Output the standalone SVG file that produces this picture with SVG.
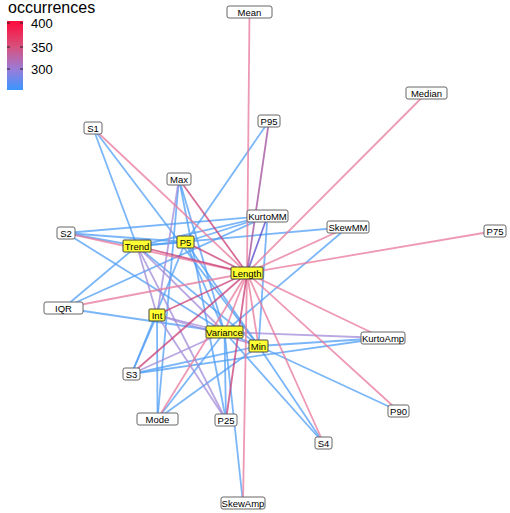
<svg xmlns="http://www.w3.org/2000/svg" width="510" height="513" viewBox="0 0 510 513">
<defs>
<linearGradient id="leg" x1="0" y1="0" x2="0" y2="1">
<stop offset="0" stop-color="#ff0a3c"/>
<stop offset="0.37" stop-color="#d8507c"/>
<stop offset="0.7" stop-color="#9a7cd8"/>
<stop offset="1" stop-color="#3a96ff"/>
</linearGradient>
<style>
line{stroke-width:1.8;stroke-opacity:0.75;fill:none}
.b{stroke:#4f9ef5}
.p{stroke:#a08ad8}
.k{stroke:#e8779a}
.d{stroke:#c83c74}
.m{stroke:#a04a98}
.v{stroke:#5548cc}
.n rect{fill:#ffffff;stroke:#666;stroke-width:1}
.y rect{fill:#ffff33;stroke:#444;stroke-width:1}
text{font-family:"Liberation Sans",Arial,sans-serif;fill:#000}
.n text,.y text{font-size:9.5px;text-anchor:middle}
.tk{stroke:#222;stroke-width:1;stroke-opacity:1}
</style>
</defs>
<rect width="510" height="513" fill="#ffffff"/>
<g id="legend">
<text x="8" y="13" font-size="16">occurrences</text>
<rect x="7" y="21" width="16" height="69" fill="url(#leg)"/>
<line class="tk" x1="7" y1="23" x2="10" y2="23"/><line class="tk" x1="20" y1="23" x2="23" y2="23"/>
<line class="tk" x1="7" y1="47" x2="10" y2="47"/><line class="tk" x1="20" y1="47" x2="23" y2="47"/>
<line class="tk" x1="7" y1="69" x2="10" y2="69"/><line class="tk" x1="20" y1="69" x2="23" y2="69"/>
<text x="31" y="27.5" font-size="13">400</text>
<text x="31" y="51.5" font-size="13">350</text>
<text x="31" y="73.5" font-size="13">300</text>
</g>
<g id="connectors">
<line class="b" x1="93" y1="128" x2="137" y2="246"/>
<line class="b" x1="93" y1="128" x2="258.5" y2="346"/>
<line class="b" x1="269" y1="121" x2="185.5" y2="242"/>
<line class="b" x1="66" y1="233" x2="137" y2="246"/>
<line class="b" x1="66" y1="233" x2="185.5" y2="242"/>
<line class="b" x1="66" y1="233" x2="267.5" y2="216"/>
<line class="b" x1="66" y1="233" x2="224.5" y2="332"/>
<line class="b" x1="137" y1="246" x2="63.5" y2="308"/>
<line class="b" x1="63.5" y1="308" x2="267.5" y2="216"/>
<line class="b" x1="63.5" y1="308" x2="224.5" y2="332"/>
<line class="b" x1="137" y1="246" x2="267.5" y2="216"/>
<line class="b" x1="348" y1="227" x2="137" y2="246"/>
<line class="b" x1="348" y1="227" x2="224.5" y2="332"/>
<line class="b" x1="267.5" y1="216" x2="258.5" y2="346"/>
<line class="b" x1="179" y1="179" x2="224.5" y2="332"/>
<line class="b" x1="179" y1="179" x2="226" y2="420"/>
<line class="b" x1="179" y1="179" x2="157.5" y2="419"/>
<line class="b" x1="185.5" y1="242" x2="137" y2="246"/>
<line class="b" x1="185.5" y1="242" x2="224.5" y2="332"/>
<line class="b" x1="185.5" y1="242" x2="258.5" y2="346"/>
<line class="b" x1="185.5" y1="242" x2="267.5" y2="216"/>
<line class="b" x1="185.5" y1="242" x2="131.5" y2="374"/>
<line class="b" x1="137" y1="246" x2="258.5" y2="346"/>
<line class="b" x1="157" y1="315" x2="131.5" y2="374"/>
<line class="b" x1="157" y1="315" x2="157.5" y2="419"/>
<line class="b" x1="131.5" y1="374" x2="258.5" y2="346"/>
<line class="b" x1="131.5" y1="374" x2="383" y2="338"/>
<line class="b" x1="157.5" y1="419" x2="224.5" y2="332"/>
<line class="b" x1="157.5" y1="419" x2="258.5" y2="346"/>
<line class="b" x1="226" y1="420" x2="224.5" y2="332"/>
<line class="b" x1="243" y1="503" x2="224.5" y2="332"/>
<line class="b" x1="323.5" y1="443" x2="224.5" y2="332"/>
<line class="b" x1="323.5" y1="443" x2="258.5" y2="346"/>
<line class="b" x1="398.5" y1="411" x2="258.5" y2="346"/>
<line class="b" x1="383" y1="338" x2="258.5" y2="346"/>
<line class="b" x1="224.5" y1="332" x2="258.5" y2="346"/>
<line class="p" x1="179" y1="179" x2="157" y2="315"/>
<line class="p" x1="137" y1="246" x2="157" y2="315"/>
<line class="p" x1="137" y1="246" x2="224.5" y2="332"/>
<line class="p" x1="137" y1="246" x2="226" y2="420"/>
<line class="p" x1="157" y1="315" x2="224.5" y2="332"/>
<line class="p" x1="157" y1="315" x2="226" y2="420"/>
<line class="p" x1="157" y1="315" x2="258.5" y2="346"/>
<line class="p" x1="131.5" y1="374" x2="224.5" y2="332"/>
<line class="p" x1="383" y1="338" x2="224.5" y2="332"/>
<line class="k" x1="249.5" y1="12" x2="247" y2="273"/>
<line class="k" x1="426.5" y1="93" x2="247" y2="273"/>
<line class="k" x1="495" y1="231" x2="247" y2="273"/>
<line class="k" x1="348" y1="227" x2="247" y2="273"/>
<line class="k" x1="93" y1="128" x2="247" y2="273"/>
<line class="k" x1="66" y1="233" x2="247" y2="273"/>
<line class="k" x1="63.5" y1="308" x2="247" y2="273"/>
<line class="k" x1="157.5" y1="419" x2="247" y2="273"/>
<line class="k" x1="243" y1="503" x2="247" y2="273"/>
<line class="k" x1="323.5" y1="443" x2="247" y2="273"/>
<line class="k" x1="398.5" y1="411" x2="247" y2="273"/>
<line class="k" x1="383" y1="338" x2="247" y2="273"/>
<line class="k" x1="224.5" y1="332" x2="247" y2="273"/>
<line class="k" x1="258.5" y1="346" x2="247" y2="273"/>
<line class="d" x1="137" y1="246" x2="247" y2="273"/>
<line class="d" x1="185.5" y1="242" x2="247" y2="273"/>
<line class="d" x1="157" y1="315" x2="247" y2="273"/>
<line class="d" x1="131.5" y1="374" x2="247" y2="273"/>
<line class="d" x1="226" y1="420" x2="247" y2="273"/>
<line class="d" x1="179" y1="179" x2="247" y2="273"/>
<line class="m" x1="269" y1="121" x2="247" y2="273"/>
<line class="v" x1="267.5" y1="216" x2="247" y2="273"/>
</g>
<g id="n-Mean" class="n"><rect x="227" y="6" width="45" height="12" rx="2"/><text x="249.5" y="15.5">Mean</text></g>
<g id="n-Median" class="n"><rect x="406" y="87" width="41" height="12" rx="2"/><text x="426.5" y="96.5">Median</text></g>
<g id="n-P95" class="n"><rect x="258" y="115" width="22" height="12" rx="2"/><text x="269" y="124.5">P95</text></g>
<g id="n-S1" class="n"><rect x="84" y="122" width="18" height="12" rx="2"/><text x="93" y="131.5">S1</text></g>
<g id="n-Max" class="n"><rect x="167" y="173" width="24" height="12" rx="2"/><text x="179" y="182.5">Max</text></g>
<g id="n-KurtoMM" class="n"><rect x="247" y="210" width="41" height="12" rx="2"/><text x="267.5" y="219.5">KurtoMM</text></g>
<g id="n-SkewMM" class="n"><rect x="327" y="221" width="42" height="12" rx="2"/><text x="348" y="230.5">SkewMM</text></g>
<g id="n-P75" class="n"><rect x="484" y="225" width="22" height="12" rx="2"/><text x="495" y="234.5">P75</text></g>
<g id="n-S2" class="n"><rect x="57" y="227" width="18" height="12" rx="2"/><text x="66" y="236.5">S2</text></g>
<g id="n-Trend" class="y"><rect x="123" y="240" width="28" height="12" rx="1"/><text x="137" y="249.5">Trend</text></g>
<g id="n-P5" class="y"><rect x="177" y="236" width="17" height="12" rx="1"/><text x="185.5" y="245.5">P5</text></g>
<g id="n-Length" class="y"><rect x="231" y="267" width="32" height="12" rx="1"/><text x="247" y="276.5">Length</text></g>
<g id="n-IQR" class="n"><rect x="44" y="302" width="39" height="12" rx="2"/><text x="63.5" y="311.5">IQR</text></g>
<g id="n-Int" class="y"><rect x="149" y="309" width="16" height="12" rx="1"/><text x="157" y="318.5">Int</text></g>
<g id="n-Variance" class="y"><rect x="206" y="326" width="37" height="12" rx="1"/><text x="224.5" y="335.5">Variance</text></g>
<g id="n-Min" class="y"><rect x="249" y="340" width="19" height="12" rx="1"/><text x="258.5" y="349.5">Min</text></g>
<g id="n-KurtoAmp" class="n"><rect x="361" y="332" width="44" height="12" rx="2"/><text x="383" y="341.5">KurtoAmp</text></g>
<g id="n-S3" class="n"><rect x="123" y="368" width="17" height="12" rx="2"/><text x="131.5" y="377.5">S3</text></g>
<g id="n-P90" class="n"><rect x="388" y="405" width="21" height="12" rx="2"/><text x="398.5" y="414.5">P90</text></g>
<g id="n-Mode" class="n"><rect x="137" y="413" width="41" height="12" rx="2"/><text x="157.5" y="422.5">Mode</text></g>
<g id="n-P25" class="n"><rect x="215" y="414" width="22" height="12" rx="2"/><text x="226" y="423.5">P25</text></g>
<g id="n-S4" class="n"><rect x="315" y="437" width="17" height="12" rx="2"/><text x="323.5" y="446.5">S4</text></g>
<g id="n-SkewAmp" class="n"><rect x="221" y="497" width="44" height="12" rx="2"/><text x="243" y="506.5">SkewAmp</text></g>
</svg>
